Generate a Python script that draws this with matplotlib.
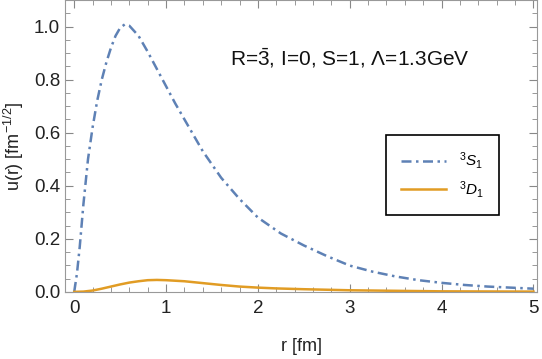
import numpy as np
import matplotlib
matplotlib.use('Agg')
import matplotlib.pyplot as plt
from matplotlib.ticker import MultipleLocator

plt.rcParams['font.family'] = ['Liberation Sans', 'DejaVu Sans']
plt.rcParams['mathtext.fontset'] = 'custom'
plt.rcParams['mathtext.rm'] = 'Liberation Sans'
plt.rcParams['mathtext.it'] = 'Liberation Sans:italic'

# radial wave functions
r_s = [0.0, 0.03, 0.06, 0.1, 0.15, 0.2, 0.25, 0.3, 0.35, 0.4, 0.45, 0.5, 0.55, 0.6,
       0.7, 0.8, 0.9, 1.0, 1.1, 1.2, 1.3, 1.4, 1.6, 1.8, 2.0, 2.25, 2.5, 2.75,
       3.0, 3.25, 3.5, 3.75, 4.0, 4.25, 4.5, 4.75, 5.0]
u_s = [0.0, 0.07, 0.17, 0.33, 0.50, 0.62, 0.72, 0.80, 0.865, 0.92, 0.965, 0.995, 1.008, 1.003,
       0.965, 0.905, 0.84, 0.775, 0.71, 0.65, 0.59, 0.53, 0.43, 0.35, 0.28, 0.22, 0.175, 0.135,
       0.099, 0.076, 0.058, 0.044, 0.034, 0.026, 0.020, 0.016, 0.012]

r_d = [0.0, 0.1, 0.2, 0.3, 0.4, 0.5, 0.6, 0.7, 0.8, 0.9, 1.0, 1.2, 1.4, 1.6, 1.8,
       2.0, 2.2, 2.5, 3.0, 3.5, 4.0, 4.5, 5.0]
u_d = [0.0, 0.001, 0.005, 0.012, 0.020, 0.028, 0.035, 0.040, 0.044, 0.045, 0.044, 0.040, 0.033, 0.026, 0.020,
       0.016, 0.013, 0.010, 0.006, 0.004, 0.002, 0.0015, 0.001]

title_text = r'R=$\mathrm{\bar{3}}$, I=0, S=1, Λ=1.3GeV'
labels = [r'$^{3}S_{1}$', r'$^{3}D_{1}$']

fig = plt.figure(figsize=(5.42, 3.59), dpi=100)
ax = fig.add_axes([0.12, 0.187, 0.871, 0.813])

ax.plot(r_s, u_s, color='#5E81B5', lw=1.8, linestyle=(0, (4.0, 1.8, 1.0, 1.8)), label=labels[0])
ax.plot(r_d, u_d, color='#E19C24', lw=1.8, label=labels[1])

ax.set_xlim(-0.1, 5.04)
ax.set_ylim(0, 1.1)
ax.xaxis.set_major_locator(MultipleLocator(1))
ax.xaxis.set_minor_locator(MultipleLocator(0.2))
ax.yaxis.set_major_locator(MultipleLocator(0.2))
ax.yaxis.set_minor_locator(MultipleLocator(0.05))
ax.tick_params(which='both', direction='in', top=True, right=True, color='#888888',
               labelsize=13.5, labelcolor='#222222')
ax.tick_params(which='major', length=6, width=0.8)
ax.tick_params(which='minor', length=3.5, width=0.6)
ax.tick_params(axis='x', pad=6)
for s in ax.spines.values():
    s.set_color('#999999')

ax.set_xlabel('r [fm]', fontsize=13, color='#222222', labelpad=15)
ax.set_ylabel(r'u(r) [fm$^{-1/2}$]', fontsize=13, color='#222222', labelpad=6)

ax.text(0.35, 0.8, title_text, transform=ax.transAxes, ha='left', va='center',
        fontsize=15, color='#111111')

leg = ax.legend(loc='center', bbox_to_anchor=(0.80, 0.40), fontsize=11, frameon=True,
                fancybox=False, edgecolor='black', framealpha=1, handlelength=2.9,
                borderpad=1.0, labelspacing=0.5, handletextpad=0.9, borderaxespad=0)
leg.get_frame().set_linewidth(1.2)

fig.savefig('out.png', dpi=100)
